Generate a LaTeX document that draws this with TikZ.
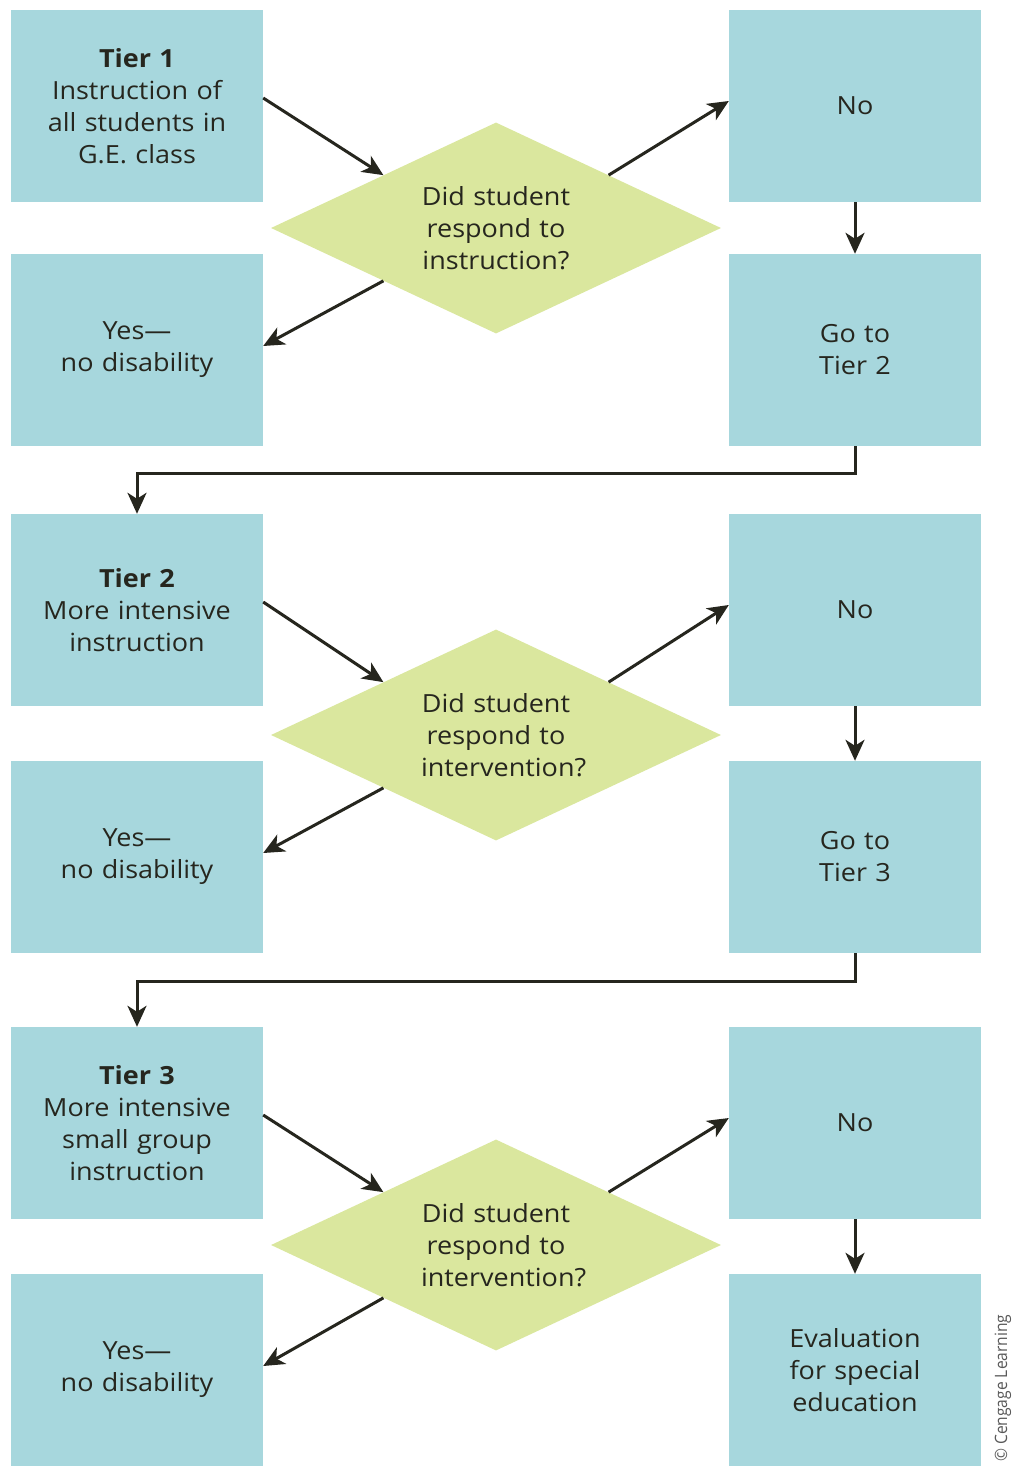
\documentclass[tikz,border=0pt]{standalone}
\usepackage{fontspec}
\setmainfont{Open Sans}[FakeStretch=1.08]
\usetikzlibrary{shapes.geometric,arrows.meta}
\definecolor{boxblue}{HTML}{A7D7DD}
\definecolor{decgreen}{HTML}{DAE79E}
\definecolor{inkdark}{HTML}{26261E}
\tikzset{
  stepbox/.style={rectangle, fill=boxblue, minimum width=252pt, minimum height=192pt,
    inner sep=0pt, text width=245pt, align=center, text=inkdark,
    font=\fontsize{25}{32}\selectfont},
  decision/.style={diamond, fill=decgreen, aspect=2.13, minimum width=450pt, minimum height=211pt,
    inner sep=0pt, text width=150pt, align=center, text=inkdark,
    font=\fontsize{25}{32}\selectfont},
  flow/.style={draw=inkdark, line width=3pt, -{Stealth[length=21pt,width=19pt,inset=6pt]}},
}
\begin{document}
\begin{tikzpicture}[x=1pt,y=-1pt]
\useasboundingbox (0,0) rectangle (1013,1466);
% Tier 1
\node[stepbox] (t1)  at (137,106) {\textbf{Tier 1}\\Instruction of\\all students in\\G.E. class};
\node[stepbox] (y1)  at (137,350) {Yes—\\no disability};
\node[stepbox] (n1)  at (855,106) {No};
\node[stepbox] (g2)  at (855,350) {Go to\\Tier 2};
\node[decision] (d1) at (496,228) {Did student\\respond to\\instruction?};
% Tier 2
\node[stepbox] (t2)  at (137,610) {\textbf{Tier 2}\\More intensive\\instruction};
\node[stepbox] (y2)  at (137,857) {Yes—\\no disability};
\node[stepbox] (n2)  at (855,610) {No};
\node[stepbox] (g3)  at (855,857) {Go to\\Tier 3};
\node[decision] (d2) at (496,735) {Did student\\respond to\\intervention?};
% Tier 3
\node[stepbox] (t3)  at (137,1123) {\textbf{Tier 3}\\More intensive\\small group\\instruction};
\node[stepbox] (y3)  at (137,1370) {Yes—\\no disability};
\node[stepbox] (n3)  at (855,1123) {No};
\node[stepbox] (ev)  at (855,1370) {Evaluation\\for special\\education};
\node[decision] (d3) at (496,1245) {Did student\\respond to\\intervention?};
% connectors
\foreach \t/\d/\n/\y/\g in {t1/d1/n1/y1/g2, t2/d2/n2/y2/g3, t3/d3/n3/y3/ev}{
  \draw[flow] ([yshift=8pt]\t.east) -- (\d.north west);
  \draw[flow] (\d.north east) -- ([yshift=5pt]\n.west);
  \draw[flow] (\d.south west) -- ([yshift=4pt]\y.east);
  \draw[flow] (\n.south) -- (\g.north);
}
\coordinate (k1) at (855,473);
\coordinate (k2) at (855,981);
\draw[flow] (g2.south) -- (k1) -| (t2.north);
\draw[flow] (g3.south) -- (k2) -| (t3.north);
\node[rotate=90, anchor=west, text=black!65, font=\fontsize{17}{18}\selectfont, inner sep=0pt, xscale=0.85] (cr) at (1003,1462) {© Cengage Learning};
\end{tikzpicture}
\end{document}
